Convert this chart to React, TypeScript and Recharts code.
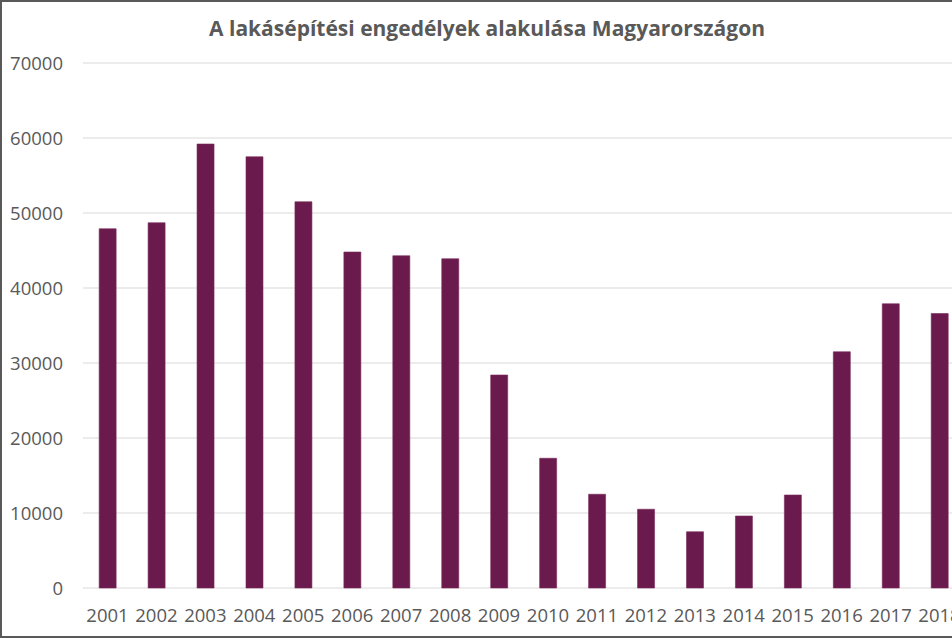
import { BarChart, Bar, XAxis, YAxis, CartesianGrid } from "recharts";

const years = [
    "2001", "2002", "2003", "2004", "2005", "2006", "2007", "2008", "2009",
    "2010", "2011", "2012", "2013", "2014", "2015", "2016", "2017", "2018",
];
const permits = [
    47900, 48700, 59200, 57500, 51500, 44800, 44300, 43900, 28400,
    17300, 12500, 10500, 7500, 9600, 12400, 31500, 37900, 36600,
];
const yTicks = [0, 10000, 20000, 30000, 40000, 50000, 60000, 70000];

const data = years.map((year, i) => ({ year, value: permits[i] }));

const tickStyle = { fill: "#595959", fontSize: 18.5, fontFamily: "'Open Sans', sans-serif" };

export default function App() {
    return (
        <div style={{ position: "fixed", left: 0, top: 0, width: 952, height: 638, overflow: "hidden", background: "#fff" }}>
            <div
                style={{
                    position: "absolute",
                    left: 0,
                    top: 14,
                    width: 974,
                    textAlign: "center",
                    fontFamily: "'Open Sans', sans-serif",
                    fontWeight: 700,
                    fontSize: 21,
                    lineHeight: "28px",
                    color: "#595959",
                }}
            >
                A lakásépítési engedélyek alakulása Magyarországon
            </div>
            <div style={{ position: "absolute", left: 0, top: 0 }}>
                <BarChart
                    width={974}
                    height={638}
                    data={data}
                    margin={{ top: 63, right: 10, bottom: 0, left: 0 }}
                    barCategoryGap="33%"
                >
                    <CartesianGrid vertical={false} stroke="#d9d9d9" strokeWidth={1.2} />
                    <XAxis
                        dataKey="year"
                        axisLine={false}
                        tickLine={false}
                        tickSize={0}
                        tickMargin={21}
                        height={50}
                        interval={0}
                        tick={tickStyle}
                    />
                    <YAxis
                        domain={[0, 70000]}
                        ticks={yTicks}
                        axisLine={false}
                        tickLine={false}
                        tickSize={0}
                        tickMargin={20}
                        width={83}
                        tick={tickStyle}
                    />
                    <Bar dataKey="value" fill="#6A1A4C" stroke="#7a2a5c" strokeWidth={0.6} isAnimationActive={false} />
                </BarChart>
            </div>
            <div
                style={{
                    position: "absolute",
                    left: 0,
                    top: 0,
                    width: 960,
                    height: 638,
                    boxSizing: "border-box",
                    border: "2px solid #595959",
                    pointerEvents: "none",
                }}
            />
        </div>
    );
}
